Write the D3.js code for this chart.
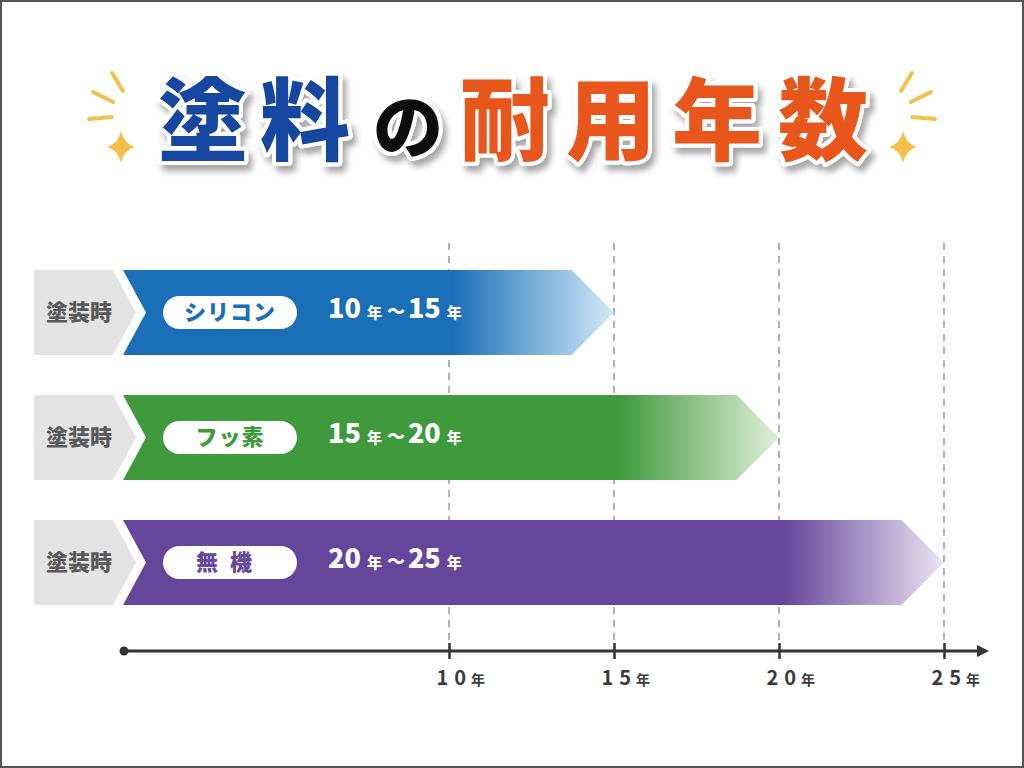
<!DOCTYPE html>
<html>
<head>
<meta charset="utf-8">
<script src="https://cdn.jsdelivr.net/npm/d3@7"></script>
<style>
  html, body { margin: 0; padding: 0; background: #fff; }
  svg { display: block; }
  text { font-family: "Noto Sans CJK JP", "Noto Sans", sans-serif; }
</style>
</head>
<body>
<svg id="chart" width="1024" height="768"></svg>
<script>
// chart data
const paints = ["シリコン", "フッ素", "無機"];
const startYears = [10, 15, 20];
const endYears = [15, 20, 25];
const rowLabel = "塗装時";
const tickYears = [10, 15, 20, 25];
const titleParts = ["塗料", "の", "耐用年数"];

const solidColors = ["#1b6fb8", "#3f9a3b", "#65469a"];
const fadeColors = ["#d3eaf8", "#e0efd9", "#ece3f2"];

const svg = d3.select('#chart');
const W = 1024, H = 768;

const x = d3.scaleLinear().domain([0, 25]).range([119, 944]);
const y = d3.scaleBand().domain(paints).range([270, 605]).paddingInner(0.32).paddingOuter(0);

const defs = svg.append('defs');

// frame
svg.append('rect')
  .attr('x', 1).attr('y', 1)
  .attr('width', W - 2).attr('height', H - 2)
  .attr('fill', '#fff')
  .attr('stroke', '#555')
  .attr('stroke-width', 2);

// title shadow
const shadow = defs.append('filter').attr('id', 'tshadow')
  .attr('x', '-10%').attr('y', '-10%').attr('width', '130%').attr('height', '140%');
shadow.append('feDropShadow')
  .attr('dx', 4).attr('dy', 6).attr('stdDeviation', 3)
  .attr('flood-color', '#000').attr('flood-opacity', 0.35);

const title = svg.append('g').attr('filter', 'url(#tshadow)');
const titleStyle = [
  { x: 254, size: 90, color: '#1746a0', spacing: 12 },
  { x: 408, size: 70, color: '#111', spacing: 0 },
  { x: 664, size: 90, color: '#e8561c', spacing: 16 }
];
titleParts.forEach((t, i) => {
  const s = titleStyle[i];
  title.append('text')
    .attr('x', s.x + s.spacing / 2)
    .attr('y', 153)
    .attr('text-anchor', 'middle')
    .style('font-size', s.size + 'px')
    .style('font-weight', 900)
    .style('letter-spacing', s.spacing + 'px')
    .attr('fill', s.color)
    .attr('stroke', '#fff')
    .attr('stroke-width', 8)
    .attr('stroke-linejoin', 'round')
    .attr('paint-order', 'stroke')
    .text(t);
});

// sparkles both sides of the title
function sparkle(cx, flip) {
  const g = svg.append('g')
    .attr('transform', `translate(${cx},0) scale(${flip},1)`)
    .attr('stroke', '#f5c04a').attr('stroke-width', 4).attr('stroke-linecap', 'round');
  g.append('line').attr('x1', -9).attr('y1', 73).attr('x2', 2).attr('y2', 91);
  g.append('line').attr('x1', -28).attr('y1', 92).attr('x2', -8).attr('y2', 102);
  g.append('line').attr('x1', -32).attr('y1', 119).attr('x2', -9).attr('y2', 117);
  const cy = 147, r = 16, k = 3;
  g.append('path')
    .attr('stroke', 'none').attr('fill', '#f5c04a')
    .attr('d', `M0,${cy - r} Q${k},${cy - k} ${r - 2},${cy} Q${k},${cy + k} 0,${cy + r} Q${-k},${cy + k} ${-(r - 2)},${cy} Q${-k},${cy - k} 0,${cy - r} Z`);
}
sparkle(121, 1);
sparkle(903, -1);

// dashed guide lines
svg.append('g').selectAll('line')
  .data(tickYears)
  .enter()
  .append('line')
  .attr('x1', d => x(d)).attr('x2', d => x(d))
  .attr('y1', 243).attr('y2', 645)
  .attr('stroke', '#8a8a8a')
  .attr('stroke-width', 1.3)
  .attr('stroke-dasharray', '7 6');

// bars
const notch = 23;
const rows = svg.append('g').selectAll('g')
  .data(paints)
  .enter()
  .append('g');

paints.forEach((p, i) => {
  const g = defs.append('linearGradient')
    .attr('id', 'grad' + i)
    .attr('gradientUnits', 'userSpaceOnUse')
    .attr('x1', x(startYears[i]) + 4).attr('x2', x(endYears[i]))
    .attr('y1', 0).attr('y2', 0);
  g.append('stop').attr('offset', 0).attr('stop-color', solidColors[i]);
  g.append('stop').attr('offset', 1).attr('stop-color', fadeColors[i]);
});

// gray label chevron
rows.append('path')
  .attr('fill', '#e3e3e3')
  .attr('d', d => {
    const t = y(d), b = t + y.bandwidth(), m = t + y.bandwidth() / 2;
    return `M34,${t} H${x(0) - 6} L${x(0) - 6 + notch},${m} L${x(0) - 6},${b} H34 Z`;
  });

rows.append('text')
  .attr('x', 79)
  .attr('y', d => y(d) + y.bandwidth() / 2)
  .attr('dy', '0.35em')
  .attr('text-anchor', 'middle')
  .attr('fill', '#595959')
  .style('font-size', '22px')
  .style('font-weight', 900)
  .text(rowLabel);

rows.append('path')
  .attr('fill', (d, i) => `url(#grad${i})`)
  .attr('d', (d, i) => {
    const t = y(d), b = t + y.bandwidth(), h = y.bandwidth() / 2, m = t + h;
    const x0 = x(0) + 4, xe = x(endYears[i]);
    return `M${x0},${t} H${xe - h} L${xe},${m} L${xe - h},${b} H${x0} L${x0 + notch},${m} Z`;
  });

// pill with paint name
rows.append('rect')
  .attr('x', 163)
  .attr('y', d => y(d) + y.bandwidth() / 2 - 16.5)
  .attr('width', 134).attr('height', 33)
  .attr('rx', 16.5)
  .attr('fill', '#fff');

rows.append('text')
  .attr('x', 230)
  .attr('y', d => y(d) + y.bandwidth() / 2)
  .attr('dy', '0.36em')
  .attr('text-anchor', 'middle')
  .attr('fill', (d, i) => solidColors[i])
  .style('font-size', '22px')
  .style('font-weight', 900)
  .style('letter-spacing', (d, i) => i === 2 ? '12px' : '1px')
  .text(d => d);

// year range text
const range = rows.append('text')
  .attr('x', 328)
  .attr('y', d => y(d) + y.bandwidth() / 2)
  .attr('dy', '0.36em')
  .attr('fill', '#fff')
  .style('font-weight', 900);
range.append('tspan').style('font-size', '27px').text((d, i) => startYears[i]);
range.append('tspan').style('font-size', '15px').attr('dx', 6).text('年');
range.append('tspan').style('font-size', '18px').attr('dx', 5).text('～');
range.append('tspan').style('font-size', '27px').attr('dx', 3).text((d, i) => endYears[i]);
range.append('tspan').style('font-size', '15px').attr('dx', 6).text('年');

// time axis
const axisY = 651;
const axisEnd = x.range()[1] + 45;
svg.append('line')
  .attr('x1', x(0) + 5).attr('x2', axisEnd - 8)
  .attr('y1', axisY).attr('y2', axisY)
  .attr('stroke', '#333').attr('stroke-width', 3);
svg.append('circle')
  .attr('cx', x(0) + 5).attr('cy', axisY).attr('r', 4.5)
  .attr('fill', '#333');
svg.append('path')
  .attr('d', `M${axisEnd - 12},${axisY - 6} L${axisEnd},${axisY} L${axisEnd - 12},${axisY + 6} Z`)
  .attr('fill', '#333');

const axis = d3.axisBottom(x)
  .tickValues(tickYears)
  .tickSizeInner(16)
  .tickSizeOuter(0)
  .tickFormat(d => d);

const axisG = svg.append('g')
  .attr('transform', `translate(0,${axisY - 8})`)
  .call(axis);
axisG.select('.domain').remove();
axisG.selectAll('.tick line').attr('stroke', '#333').attr('stroke-width', 2.5);
axisG.selectAll('.tick text').each(function(d) {
  const t = d3.select(this);
  t.text(null)
    .attr('y', 42).attr('dy', 0).attr('x', -13)
    .attr('text-anchor', 'start')
    .attr('fill', '#3a3a3a')
    .style('font-family', '"Noto Sans CJK JP", sans-serif')
    .style('font-weight', 700);
  t.append('tspan').style('font-size', '20px').style('letter-spacing', '6px').text(d);
  t.append('tspan').style('font-size', '14px').attr('dx', -1).text('年');
});
</script>
</body>
</html>
